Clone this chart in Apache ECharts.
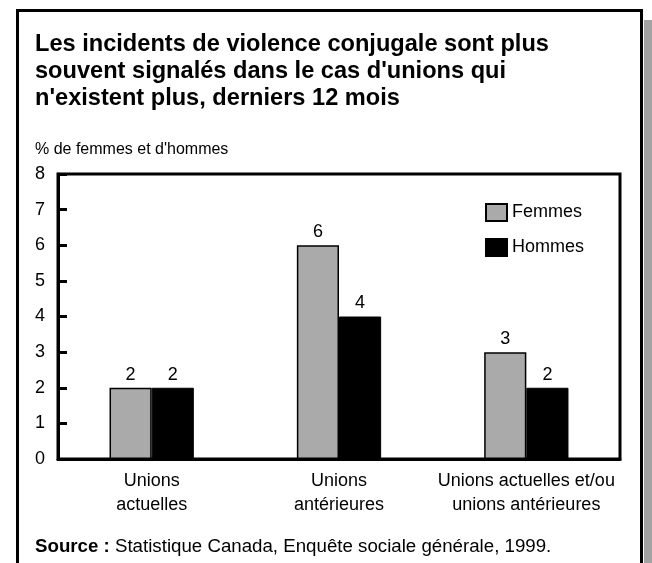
<!DOCTYPE html>
<html>
<head>
<meta charset="utf-8">
<script src="https://cdn.jsdelivr.net/npm/echarts@6/dist/echarts.min.js"></script>
<style>
  html, body { margin: 0; padding: 0; background: #fff; }
  #chart { width: 652px; height: 563px; }
</style>
</head>
<body>
<div id="chart"></div>
<script>
// données du graphique
var categories = ['Unions\nactuelles', 'Unions\nantérieures', 'Unions actuelles et/ou\nunions antérieures'];
var femmes = [2, 6, 3];
var hommes = [2, 4, 2];
var yTicks = [0, 8, 1]; // min, max, intervalle

var font = 'Liberation Sans, Arial, sans-serif';
var myChart = echarts.init(document.getElementById('chart'));

myChart.setOption({
    animation: false,
    backgroundColor: '#fff',
    textStyle: { fontFamily: font },
    title: [
        {
            text: 'Les incidents de violence conjugale sont plus\nsouvent signalés dans le cas d\'unions qui\nn\'existent plus, derniers 12 mois',
            left: 30, top: 26,
            textStyle: { fontSize: 23.6, fontWeight: 'bold', color: '#000', lineHeight: 27, fontFamily: font }
        },
        {
            text: '% de femmes et d\'hommes',
            left: 30, top: 137,
            textStyle: { fontSize: 16, fontWeight: 'normal', color: '#000', fontFamily: font }
        },
        {
            text: '{b|Source :} Statistique Canada, Enquête sociale générale, 1999.',
            left: 30, top: 532,
            textStyle: {
                fontSize: 18.7, fontWeight: 'normal', color: '#000', fontFamily: font,
                rich: { b: { fontSize: 18.7, fontWeight: 'bold', color: '#000', fontFamily: font } }
            }
        }
    ],
    graphic: [
        // ombre à droite
        { type: 'rect', shape: { x: 644, y: 20, width: 10, height: 560 }, style: { fill: '#a3a3a3' }, z: -1 },
        // cadre
        { type: 'rect', shape: { x: 17.5, y: 10.5, width: 624, height: 570 }, style: { fill: 'none', stroke: '#000', lineWidth: 3 }, z: -1 }
    ],
    legend: {
        orient: 'vertical',
        left: 480, top: 198,
        itemWidth: 21, itemHeight: 17, itemGap: 16,
        icon: 'rect',
        textStyle: { fontSize: 18, color: '#000', fontFamily: font },
        data: ['Femmes', 'Hommes']
    },
    grid: {
        left: 58, right: 32, top: 174, bottom: 104,
        show: true, borderColor: '#000', borderWidth: 3
    },
    xAxis: {
        type: 'category',
        data: categories,
        axisLine: { lineStyle: { color: '#000', width: 3 } },
        axisTick: { show: false },
        axisLabel: { interval: 0, fontSize: 18, color: '#000', lineHeight: 24, margin: 10, fontFamily: font }
    },
    yAxis: {
        type: 'value',
        min: yTicks[0], max: yTicks[1], interval: yTicks[2],
        splitLine: { show: false },
        axisLine: { show: true, lineStyle: { color: '#000', width: 3 } },
        axisTick: { show: true, inside: true, length: 9, lineStyle: { color: '#000', width: 3 } },
        axisLabel: { fontSize: 18, color: '#000', margin: 13, fontFamily: font }
    },
    series: [
        {
            name: 'Femmes',
            type: 'bar',
            data: femmes,
            barWidth: '22.5%',
            barGap: '0%',
            itemStyle: { color: '#aaaaaa', borderColor: '#000', borderWidth: 1.5 },
            label: { show: true, position: 'top', distance: 4, fontSize: 18, color: '#000', fontFamily: font }
        },
        {
            name: 'Hommes',
            type: 'bar',
            data: hommes,
            barWidth: '22.5%',
            itemStyle: { color: '#000', borderColor: '#000', borderWidth: 1 },
            label: { show: true, position: 'top', distance: 4, fontSize: 18, color: '#000', fontFamily: font }
        }
    ]
});
</script>
</body>
</html>
